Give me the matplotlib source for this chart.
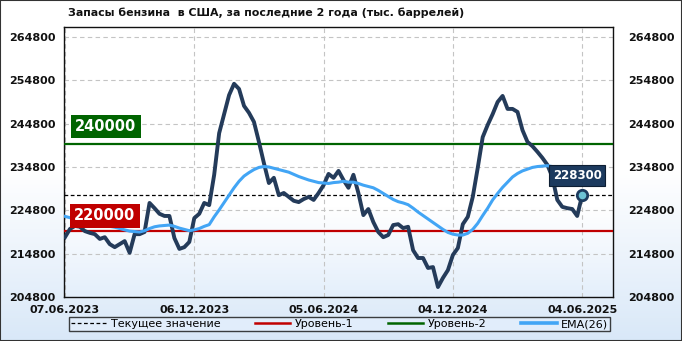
import matplotlib
matplotlib.use('Agg')
import matplotlib.pyplot as plt
import numpy as np
from matplotlib.colors import LinearSegmentedColormap
from matplotlib.lines import Line2D
from matplotlib.patches import Rectangle

title = "Запасы бензина  в США, за последние 2 года (тыс. баррелей)"

stocks = [218600, 220500, 221200, 221000, 220000, 219600, 219300, 218200, 218600, 217000,
          216300, 217000, 217700, 215000, 219300, 219300, 219800, 226500, 225300, 224000,
          223500, 223500, 218400, 215900, 216300, 217500, 223000, 224000, 226500, 226000,
          233000, 242600, 247000, 251400, 254000, 252800, 248900, 247300, 245200, 240600,
          235700, 231100, 232300, 228300, 228800, 227900, 227000, 226700, 227400, 227900,
          227200, 228800, 230600, 233200, 232300, 233900, 231800, 230000, 233000, 228800,
          223700, 225100, 222100, 219800, 218600, 219100, 221400, 221600, 220700, 221000,
          215600, 213800, 213800, 211500, 211700, 207100, 209200, 211000, 214500, 216100,
          221600, 223300, 227900, 234600, 241700, 244500, 247000, 249800, 251200, 248200,
          248200, 247500, 243300, 240600, 239600, 238300, 236900, 235300, 232500, 227200,
          225600, 225300, 225100, 223500, 228300]

ema26 = [223400, 223100, 222800, 222600, 222200, 221900, 221600, 221400, 221200, 221100,
         220900, 220600, 220300, 220000, 219900, 219800, 220100, 220600, 221000, 221200,
         221300, 221400, 221100, 220700, 220400, 220100, 220300, 220600, 221100, 221500,
         223300, 224900, 226600, 228300, 230000, 231500, 232700, 233500, 234200, 234700,
         234900, 234800, 234500, 234200, 233900, 233600, 233100, 232600, 232200, 231800,
         231500, 231200, 231100, 231000, 231200, 231300, 231500, 231300, 231300, 231000,
         230600, 230300, 230000, 229400, 228700, 228000, 227300, 226800, 226500, 226100,
         225300, 224400, 223600, 222800, 222000, 221200, 220400, 219700, 219300, 219100,
         219100, 219500, 220400, 221800, 223600, 225300, 227200, 228700, 230100, 231300,
         232500, 233300, 233900, 234300, 234700, 234900, 235000, 235100, 234900, 234300,
         233700, 233100, 232500, 231800, 231500]

x_tick_idx = [0, 26, 52, 78, 104]
x_tick_labels = ['07.06.2023', '06.12.2023', '05.06.2024', '04.12.2024', '04.06.2025']
y_ticks = [204800, 214800, 224800, 234800, 244800, 254800, 264800]
level1 = 220000
level2 = 240000
current = 228300

W, H = 682, 341
fig = plt.figure(figsize=(W / 100, H / 100), dpi=100)

# figure background gradient
bg = fig.add_axes([0, 0, 1, 1], zorder=-10)
bg.set_axis_off()
cmap_fig = LinearSegmentedColormap.from_list('f', ['#ffffff', '#ffffff', '#d9e8f8'])
bg.imshow(np.linspace(0, 1, 256).reshape(-1, 1), aspect='auto', cmap=cmap_fig,
          extent=[0, 1, 0, 1], origin='upper')
bg.set_xlim(0, 1)
bg.set_ylim(0, 1)

L, R, T, B = 64, 613, 27, 297
ax = fig.add_axes([L / W, 1 - B / H, (R - L) / W, (B - T) / H])
ax.set_xlim(-0.2, 110.2)
ax.set_ylim(204800, 267100)

cmap_ax = LinearSegmentedColormap.from_list('a', ['#ffffff', '#ffffff', '#ffffff', '#e4effb'])
ax.imshow(np.linspace(0, 1, 256).reshape(-1, 1), aspect='auto', cmap=cmap_ax,
          extent=[0, 1, 0, 1], origin='upper', transform=ax.transAxes, zorder=0)

ax.set_yticks(y_ticks)
ax.set_yticklabels([str(v) for v in y_ticks])
ax.set_xticks(x_tick_idx)
ax.set_xticklabels(x_tick_labels)
ax.grid(True, color='#c4c4c4', linestyle=(0, (4, 3)), linewidth=0.8, zorder=1)
ax.tick_params(axis='both', length=0, labelsize=8, labelcolor='#111111')
ax.tick_params(axis='y', pad=6)
ax.tick_params(axis='x', pad=6)
for lab in ax.get_xticklabels() + ax.get_yticklabels():
    lab.set_fontweight('bold')
for s in ax.spines.values():
    s.set_color('#111111')
    s.set_linewidth(1.0)

ax2 = ax.twinx()
ax2.set_ylim(ax.get_ylim())
ax2.set_yticks(y_ticks)
ax2.set_yticklabels([str(v) for v in y_ticks])
ax2.tick_params(axis='y', length=0, labelsize=8, labelcolor='#111111', pad=11)
for lab in ax2.get_yticklabels():
    lab.set_fontweight('bold')
for s in ax2.spines.values():
    s.set_visible(False)

x = np.arange(len(stocks))
ax.axhline(level2, color='#006400', linewidth=1.6, zorder=3)
ax.axhline(level1, color='#c00000', linewidth=1.6, zorder=3)
ax.axhline(current, color='#000000', linewidth=0.9, linestyle=(0, (3, 2)), zorder=3)
ax.plot(x, stocks, color='#243b5a', linewidth=2.8, zorder=4, solid_joinstyle='round')
ax.plot(x, ema26, color='#42a5f5', linewidth=2.2, zorder=5)
ax.plot([x[-1]], [stocks[-1]], marker='o', markersize=7.5, markerfacecolor='#6cc3d5',
        markeredgecolor='#1c3a5e', markeredgewidth=2, zorder=8)

ax.text(8.15, 244150, '240000', color='white', fontweight='bold', fontsize=10.5,
        ha='center', va='center', zorder=7,
        bbox=dict(boxstyle='square,pad=0.3', fc='#006400', ec='none'))
ax.text(7.95, 223500, '220000', color='white', fontweight='bold', fontsize=10.5,
        ha='center', va='center', zorder=7,
        bbox=dict(boxstyle='square,pad=0.3', fc='#c00000', ec='none'))
ax.text(103.0, 232840, str(current), color='white', fontweight='bold', fontsize=8.5,
        ha='center', va='center', zorder=9,
        bbox=dict(boxstyle='square,pad=0.32', fc='#1c3a5e', ec='#0d1e33', lw=0.8))

fig.text(68 / W, 1 - 13 / H, title, fontweight='bold', fontsize=7.9, color='#111111',
         ha='left', va='center')

handles = [Line2D([], [], color='black', linestyle=(0, (3, 2)), linewidth=0.9),
           Line2D([], [], color='#c00000', linewidth=1.8),
           Line2D([], [], color='#006400', linewidth=1.8),
           Line2D([], [], color='#42a5f5', linewidth=2.6)]
labels = ['Текущее значение', 'Уровень-1', 'Уровень-2', 'EMA(26)']
leg = fig.legend(handles, labels, ncol=4, loc='lower left',
                 bbox_to_anchor=(63 / W, 1 - 337 / H, 553 / W, 19 / H), mode='expand',
                 fontsize=8, frameon=True, fancybox=False, borderpad=0.2,
                 handlelength=3.2, handletextpad=0.4, columnspacing=1.5)
leg.get_frame().set_edgecolor('#111111')
leg.get_frame().set_facecolor('#e3effc')
leg.get_frame().set_linewidth(1.0)

fig.patches.append(Rectangle((0, 0), 1, 1, transform=fig.transFigure, fill=False,
                             edgecolor='#333333', linewidth=1.5))

fig.savefig('out.png', dpi=100)
